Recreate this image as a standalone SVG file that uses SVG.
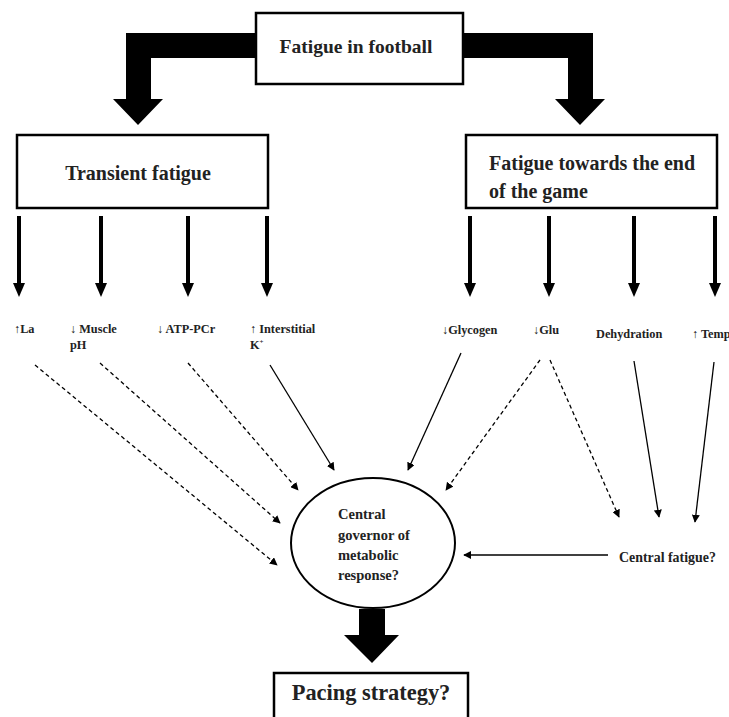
<svg xmlns="http://www.w3.org/2000/svg" width="729" height="717" viewBox="0 0 729 717">
<style>
.box{fill:#fff;stroke:#000;stroke-width:2.5}
.t{font-family:"Liberation Serif","Times New Roman",serif;font-weight:bold;fill:#222}
.h{font-size:20px}
.s{font-size:12.3px}
.c{font-size:14.5px}
.thin{stroke:#000;stroke-width:1.3;fill:none}
.dash{stroke-dasharray:4 3}
.down{stroke:#000;stroke-width:4}
</style>
<defs>
<marker id="ah" viewBox="0 0 10 10" refX="9" refY="5" markerWidth="8" markerHeight="8" markerUnits="userSpaceOnUse" orient="auto"><path d="M0,0 L10,5 L0,10 Z" fill="#000"/></marker>
</defs>
<rect width="729" height="717" fill="#fff"/>
<g id="connectors">
<path d="M256,33 H126 V99 H113 L138,125 L163,99 H151 V58 H256 Z" fill="#000"/>
<path d="M463,33 H593 V99 H605 L580,125 L555,99 H568 V58 H463 Z" fill="#000"/>
<g class="down">
<line x1="19" y1="216" x2="19" y2="285"/>
<line x1="101" y1="216" x2="101" y2="285"/>
<line x1="188" y1="216" x2="188" y2="285"/>
<line x1="267" y1="216" x2="267" y2="285"/>
<line x1="470" y1="216" x2="470" y2="285"/>
<line x1="549" y1="216" x2="549" y2="285"/>
<line x1="634" y1="216" x2="634" y2="285"/>
<line x1="715" y1="216" x2="715" y2="285"/>
</g>
<g fill="#000">
<path d="M13,283 H25 L19,297 Z"/>
<path d="M95,283 H107 L101,297 Z"/>
<path d="M182,283 H194 L188,297 Z"/>
<path d="M261,283 H273 L267,297 Z"/>
<path d="M464,283 H476 L470,297 Z"/>
<path d="M543,283 H555 L549,297 Z"/>
<path d="M628,283 H640 L634,297 Z"/>
<path d="M709,283 H721 L715,297 Z"/>
</g>
<line class="thin dash" x1="35" y1="365" x2="277" y2="565" marker-end="url(#ah)"/>
<line class="thin dash" x1="100" y1="363" x2="280" y2="523" marker-end="url(#ah)"/>
<line class="thin dash" x1="188" y1="363" x2="298" y2="490" marker-end="url(#ah)"/>
<line class="thin" x1="270" y1="365" x2="334" y2="470" marker-end="url(#ah)"/>
<line class="thin" x1="461" y1="353" x2="408" y2="470" marker-end="url(#ah)"/>
<line class="thin dash" x1="540" y1="360" x2="446" y2="490" marker-end="url(#ah)"/>
<line class="thin dash" x1="550" y1="360" x2="619" y2="517" marker-end="url(#ah)"/>
<line class="thin" x1="634" y1="361" x2="659" y2="517" marker-end="url(#ah)"/>
<line class="thin" x1="714" y1="362" x2="695" y2="522" marker-end="url(#ah)"/>
<line class="thin" x1="608" y1="555" x2="464" y2="555" marker-end="url(#ah)"/>
<path d="M359,609 H385 V635 H399 L372,663 L344,635 H359 Z" fill="#000"/>
</g>
<g id="fatigue-football">
<rect class="box" x="256" y="13" width="207" height="71"/>
<text class="t" x="356" y="53" font-size="19.5" text-anchor="middle">Fatigue in football</text>
</g>
<g id="transient">
<rect class="box" x="17" y="135" width="251" height="73"/>
<text class="t h" x="138" y="180" text-anchor="middle">Transient fatigue</text>
</g>
<g id="end-game">
<rect class="box" x="466" y="135" width="251" height="73"/>
<text class="t h" x="489" y="170">Fatigue towards the end</text>
<text class="t h" x="489" y="198">of the game</text>
</g>
<g id="la"><text class="t s" x="14" y="333">↑La</text></g>
<g id="ph"><text class="t s" x="70" y="333">↓ Muscle</text><text class="t s" x="70" y="349">pH</text></g>
<g id="atp"><text class="t s" x="157" y="333">↓ ATP-PCr</text></g>
<g id="k"><text class="t s" x="250" y="333">↑ Interstitial</text><text class="t s" x="250" y="349">K<tspan font-size="7" dy="-5">+</tspan></text></g>
<g id="glycogen"><text class="t s" x="442" y="334">↓Glycogen</text></g>
<g id="glu"><text class="t s" x="533" y="334">↓Glu</text></g>
<g id="dehydration"><text class="t s" x="596" y="338">Dehydration</text></g>
<g id="temp"><text class="t s" x="692" y="338">↑ Temp</text></g>
<g id="governor">
<ellipse cx="373" cy="543" rx="82" ry="65" fill="#fff" stroke="#000" stroke-width="2"/>
<text class="t c" x="338" y="519">Central</text>
<text class="t c" x="338" y="540">governor of</text>
<text class="t c" x="338" y="560">metabolic</text>
<text class="t c" x="338" y="580">response?</text>
</g>
<g id="central-fatigue"><text class="t" font-size="13.9" x="619" y="562">Central fatigue?</text></g>
<g id="pacing">
<rect class="box" x="274" y="673" width="194" height="60"/>
<text class="t" x="371" y="700" font-size="22.4" text-anchor="middle">Pacing strategy?</text>
</g>
</svg>
